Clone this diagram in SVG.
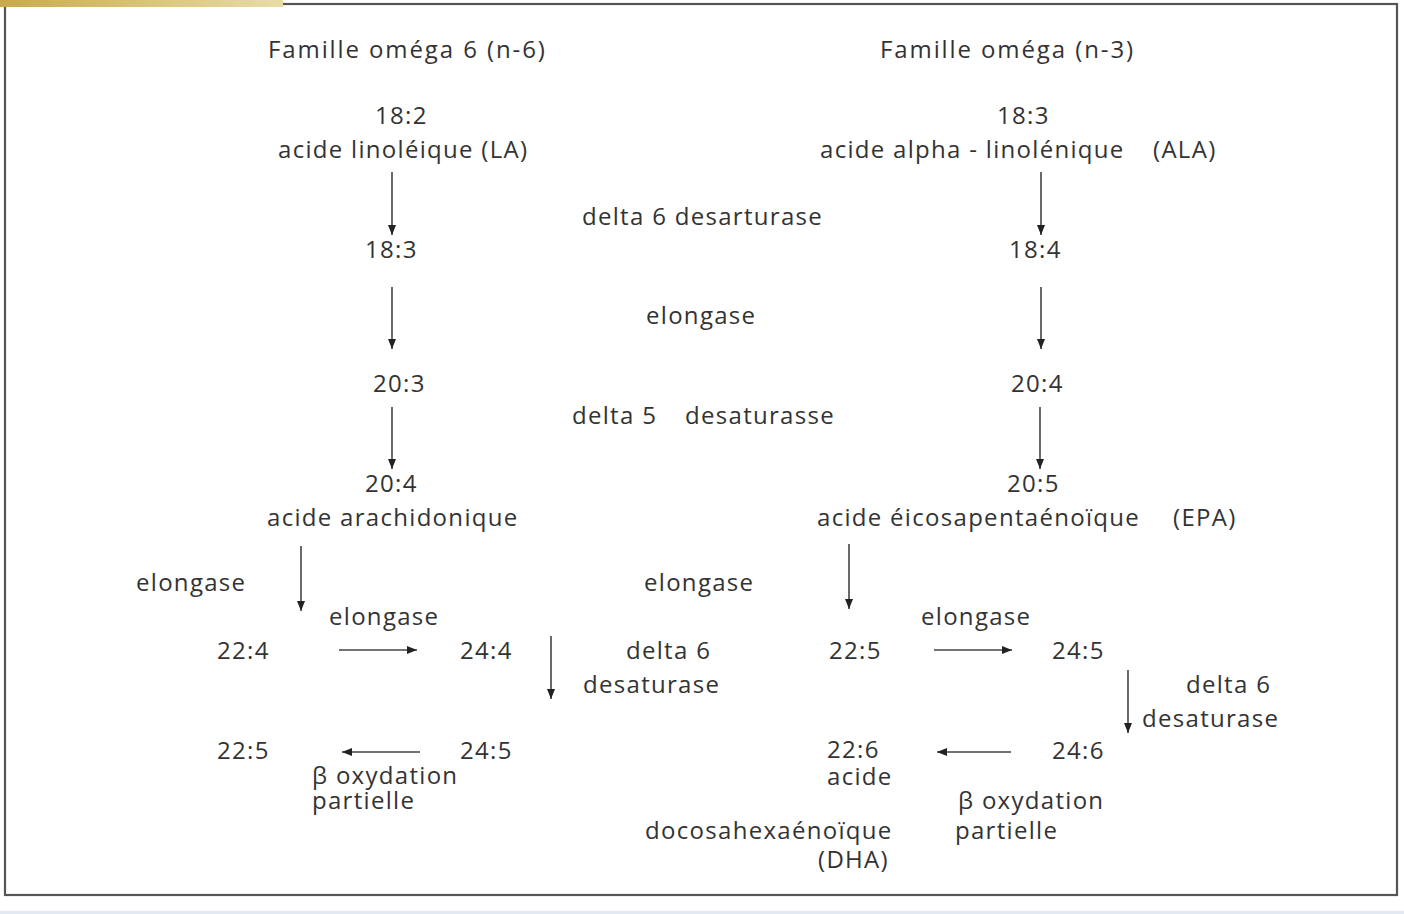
<svg xmlns="http://www.w3.org/2000/svg" width="1404" height="914" viewBox="0 0 1404 914">
<defs>
<linearGradient id="gold" x1="0" y1="0" x2="1" y2="0">
<stop offset="0" stop-color="#c9aa4c"/>
<stop offset="1" stop-color="#e8dca6"/>
</linearGradient>
<marker id="ah" viewBox="0 0 10 10" refX="10" refY="5" markerWidth="10" markerHeight="10" markerUnits="userSpaceOnUse" orient="auto">
<path d="M0,1 L10,5 L0,9 z" fill="#222"/>
</marker>
<style>
text{font-family:"Open Sans","Noto Sans","Liberation Sans",sans-serif;font-size:24px;fill:#333;letter-spacing:1.3px}
.h{letter-spacing:1.9px}
.c{stroke:#444;stroke-width:1.6;fill:none;marker-end:url(#ah)}
</style>
</defs>
<rect x="0" y="0" width="1404" height="914" fill="#fff"/>
<rect x="5" y="4" width="1392" height="891" fill="none" stroke="#555" stroke-width="2.2"/>
<rect x="0" y="0" width="283" height="7" fill="url(#gold)"/>
<rect x="0" y="911" width="1404" height="3" fill="#e3e9f3"/>

<g id="headers">
<text class="h" x="268" y="58">Famille oméga 6 (n-6)</text>
<text class="h" x="880" y="58">Famille oméga (n-3)</text>
</g>
<g id="n6-18-2"><text x="375" y="124">18:2</text><text x="278" y="158">acide linoléique (LA)</text></g>
<g id="n3-18-3"><text x="997" y="124">18:3</text><text x="820" y="158">acide alpha - linolénique</text><text x="1153" y="158">(ALA)</text></g>
<g id="lbl-d6"><text x="582" y="225">delta 6 desarturase</text></g>
<g id="n6-18-3"><text x="365" y="258">18:3</text></g>
<g id="n3-18-4"><text x="1009" y="258">18:4</text></g>
<g id="lbl-elong1"><text x="646" y="324">elongase</text></g>
<g id="n6-20-3"><text x="373" y="392">20:3</text></g>
<g id="n3-20-4"><text x="1011" y="392">20:4</text></g>
<g id="lbl-d5"><text x="572" y="424">delta 5</text><text x="685" y="424">desaturasse</text></g>
<g id="n6-20-4"><text x="365" y="492">20:4</text><text x="267" y="526">acide arachidonique</text></g>
<g id="n3-20-5"><text x="1007" y="492">20:5</text><text x="817" y="526">acide éicosapentaénoïque</text><text x="1173" y="526">(EPA)</text></g>
<g id="lbl-elong2"><text x="136" y="591">elongase</text></g>
<g id="lbl-elong3"><text x="644" y="591">elongase</text></g>
<g id="lbl-elong4"><text x="329" y="625">elongase</text></g>
<g id="lbl-elong5"><text x="921" y="625">elongase</text></g>
<g id="n6-22-4"><text x="217" y="659">22:4</text></g>
<g id="n6-24-4"><text x="460" y="659">24:4</text></g>
<g id="lbl-d6b"><text x="626" y="659">delta 6</text><text x="583" y="693">desaturase</text></g>
<g id="n3-22-5"><text x="829" y="659">22:5</text></g>
<g id="n3-24-5"><text x="1052" y="659">24:5</text></g>
<g id="lbl-d6c"><text x="1186" y="693">delta 6</text><text x="1142" y="727">desaturase</text></g>
<g id="n6-22-5"><text x="217" y="759">22:5</text></g>
<g id="n6-24-5"><text x="460" y="759">24:5</text></g>
<g id="lbl-box1"><text x="312" y="784">β oxydation</text><text x="312" y="809">partielle</text></g>
<g id="n3-22-6"><text x="827" y="758">22:6</text><text x="827" y="785">acide</text><text x="645" y="839">docosahexaénoïque</text><text x="818" y="868">(DHA)</text></g>
<g id="n3-24-6"><text x="1052" y="759">24:6</text></g>
<g id="lbl-box2"><text x="958" y="809">β oxydation</text><text x="955" y="839">partielle</text></g>

<g id="connectors">
<line class="c" x1="392" y1="172" x2="392" y2="235"/>
<line class="c" x1="1041" y1="172" x2="1041" y2="235"/>
<line class="c" x1="392" y1="287" x2="392" y2="349"/>
<line class="c" x1="1041" y1="287" x2="1041" y2="349"/>
<line class="c" x1="392" y1="407" x2="392" y2="469"/>
<line class="c" x1="1040" y1="407" x2="1040" y2="469"/>
<line class="c" x1="301" y1="546" x2="301" y2="611"/>
<line class="c" x1="849" y1="544" x2="849" y2="609"/>
<line class="c" x1="339" y1="650" x2="417" y2="650"/>
<line class="c" x1="934" y1="650" x2="1012" y2="650"/>
<line class="c" x1="551" y1="636" x2="551" y2="699"/>
<line class="c" x1="1128" y1="670" x2="1128" y2="733"/>
<line class="c" x1="420" y1="752" x2="342" y2="752"/>
<line class="c" x1="1011" y1="752" x2="937" y2="752"/>
</g>
</svg>
